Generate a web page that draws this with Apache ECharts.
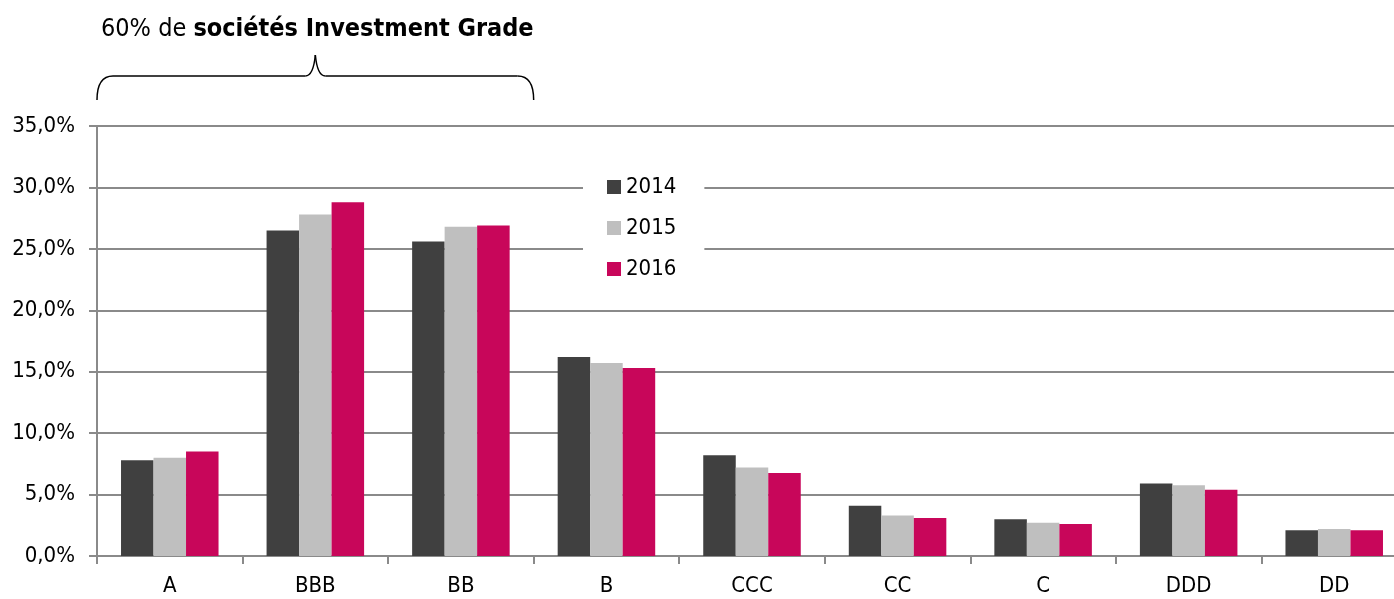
<!DOCTYPE html>
<html>
<head>
<meta charset="utf-8">
<script src="https://cdn.jsdelivr.net/npm/echarts@6/dist/echarts.min.js"></script>
<style>
  html, body { margin: 0; padding: 0; background: #fff; }
  #chart { width: 1394px; height: 599px; }
</style>
</head>
<body>
<div id="chart"></div>
<script>
const categories = ['A', 'BBB', 'BB', 'B', 'CCC', 'CC', 'C', 'DDD', 'DD']
const years = ['2014', '2015', '2016']
const values2014 = [7.8, 26.5, 25.6, 16.2, 8.2, 4.1, 3.0, 5.9, 2.1]
const values2015 = [8.0, 27.8, 26.8, 15.7, 7.2, 3.3, 2.7, 5.75, 2.2]
const values2016 = [8.5, 28.8, 26.9, 15.3, 6.75, 3.1, 2.6, 5.4, 2.1]
const yTicks = [0, 5, 10, 15, 20, 25, 30, 35]

const FONT = "'Liberation Sans Narrow', 'Arial Narrow', 'DejaVu Sans Condensed', sans-serif"
const AXIS_GREY = '#8a8a8a'

const chart = echarts.init(document.getElementById('chart'))

function fmtPct(v) {
  return v.toFixed(1).replace('.', ',') + '%'
}

chart.setOption({
  animation: false,
  color: ['#404040', '#bfbfbf', '#c8065a'],
  textStyle: { fontFamily: FONT },
  title: {
    left: 96,
    top: 12,
    text: '{n|60% de }{b|sociétés Investment Grade}',
    textStyle: {
      rich: {
        n: { fontFamily: FONT, fontSize: 25, fontWeight: 'normal', color: '#000' },
        b: { fontFamily: FONT, fontSize: 25, fontWeight: 'bold', color: '#000' }
      }
    }
  },
  legend: {
    data: years,
    orient: 'vertical',
    left: 583,
    top: 170,
    icon: 'rect',
    itemWidth: 14,
    itemHeight: 14,
    itemGap: 19,
    backgroundColor: '#fff',
    padding: [6, 28, 6, 24],
    textStyle: { fontFamily: FONT, fontSize: 22, color: '#000' }
  },
  grid: {
    left: 97,
    width: 1310,
    top: 126,
    bottom: 43,
    containLabel: false,
    outerBoundsMode: 'none'
  },
  xAxis: {
    type: 'category',
    data: categories,
    axisLine: { lineStyle: { color: AXIS_GREY, width: 2 } },
    axisTick: { show: true, length: 8, lineStyle: { color: AXIS_GREY, width: 2 } },
    axisLabel: { fontFamily: FONT, fontSize: 22, color: '#000', margin: 19 },
    splitLine: { show: false }
  },
  yAxis: {
    type: 'value',
    min: 0,
    max: yTicks[yTicks.length - 1],
    interval: yTicks[1] - yTicks[0],
    axisLine: { show: true, lineStyle: { color: AXIS_GREY, width: 2 } },
    axisTick: { show: true, length: 8, lineStyle: { color: AXIS_GREY, width: 2 } },
    axisLabel: {
      fontFamily: FONT, fontSize: 22, color: '#000', margin: 22,
      formatter: fmtPct
    },
    splitLine: { show: true, lineStyle: { color: AXIS_GREY, width: 2 } }
  },
  series: [
    { name: years[0], type: 'bar', data: values2014, barGap: '0%', barCategoryGap: '33%' },
    { name: years[1], type: 'bar', data: values2015, barGap: '0%', barCategoryGap: '33%' },
    { name: years[2], type: 'bar', data: values2016, barGap: '0%', barCategoryGap: '33%' }
  ]
})

// accolade au-dessus des catégories Investment Grade (A, BBB, BB)
const pA = chart.convertToPixel({ xAxisIndex: 0 }, 'A')
const pBBB = chart.convertToPixel({ xAxisIndex: 0 }, 'BBB')
const pBB = chart.convertToPixel({ xAxisIndex: 0 }, 'BB')
const band = pBBB - pA
const bl = pA - band / 2
const br = pBB + band / 2
const tip = (bl + br) / 2
const yb = 100, ym = 76, yt = 55
const braceStyle = { stroke: '#000', lineWidth: 1.5, fill: null }

function curve(x1, y1, cx, cy, x2, y2) {
  return { type: 'bezierCurve', shape: { x1: x1, y1: y1, cpx1: cx, cpy1: cy, x2: x2, y2: y2 }, style: braceStyle }
}
function seg(x1, y1, x2, y2) {
  return { type: 'line', shape: { x1: x1, y1: y1, x2: x2, y2: y2 }, style: braceStyle }
}

chart.setOption({
  graphic: [
    curve(bl, yb, bl, ym, bl + 16, ym),
    seg(bl + 16, ym, tip - 10, ym),
    curve(tip - 10, ym, tip - 2, ym, tip, yt),
    curve(tip, yt, tip + 2, ym, tip + 10, ym),
    seg(tip + 10, ym, br - 16, ym),
    curve(br - 16, ym, br, ym, br, yb)
  ]
})
</script>
</body>
</html>
